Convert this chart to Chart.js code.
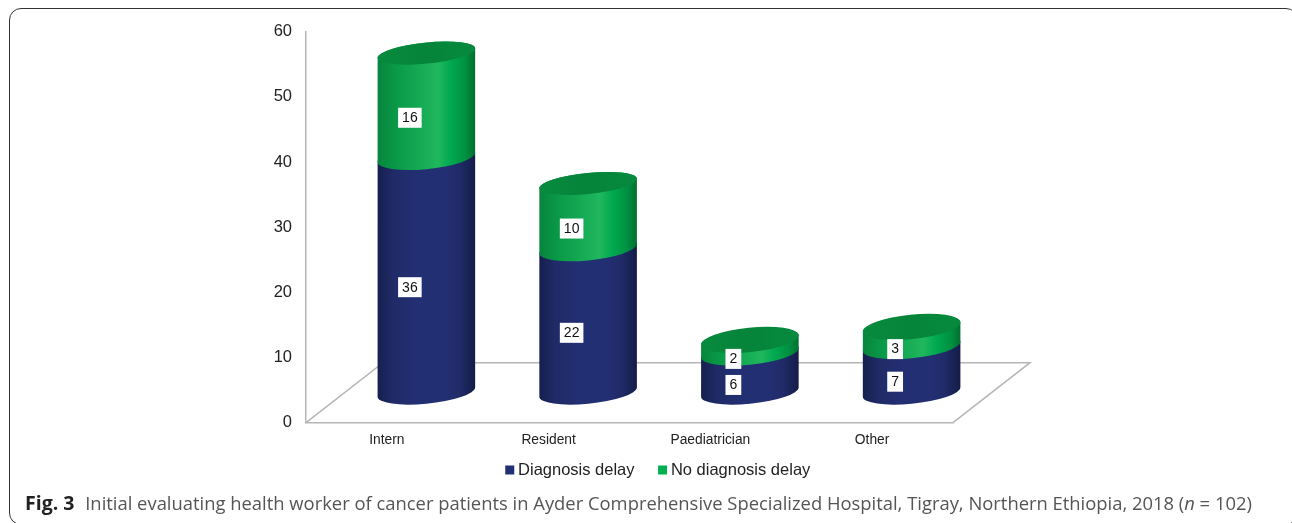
<!DOCTYPE html>
<html>
<head>
<meta charset="utf-8">
<script src="https://cdn.jsdelivr.net/npm/chart.js@4"></script>
<style>
    html, body { margin: 0; padding: 0; background: #fff; overflow: hidden; }
    #wrap { position: relative; width: 1292px; height: 523px; overflow: hidden; }
    #chart { position: absolute; left: 0; top: 0; }
    #card { position: absolute; left: 9px; top: 7.5px; width: 1289px; height: 517px; border: 1.5px solid #333; border-radius: 12px; box-sizing: border-box; }
    #caption { position: absolute; left: 25px; top: 489px; white-space: nowrap; font: 18.4px "Open Sans", sans-serif; color: #555; }
    #caption b { color: #222; font-size: 19.5px; margin-right: 6px; }
</style>
</head>
<body>
<div id="wrap">
    <div id="card"></div>
    <canvas id="chart" width="1292" height="523"></canvas>
    <div id="caption"><b>Fig. 3</b> Initial evaluating health worker of cancer patients in Ayder Comprehensive Specialized Hospital, Tigray, Northern Ethiopia, 2018 (<i>n</i> = 102)</div>
</div>
<script>
const categories = ['Intern', 'Resident', 'Paediatrician', 'Other'];
const diagnosisDelay = [36, 22, 6, 7];
const noDiagnosisDelay = [16, 10, 2, 3];
const yTicks = [0, 10, 20, 30, 40, 50, 60];

// 3D look: floor depth in px, cylinders stand in the middle of it
const depthX = 77;
const depthY = 60;
const yShift = 30.7;
const ellipseB = 10.5;
const shortCapB = 12.2;
const tilt = -0.1;
const axisColor = '#b6b6b6';

const blueStops = [[0, '#151f4e'], [0.15, '#1f2a66'], [0.4, '#232f73'], [0.7, '#232f73'], [0.85, '#1f2a66'], [1, '#131c47']];
const greenStops = [[0, '#07853d'], [0.2, '#0a9a48'], [0.45, '#16ab55'], [0.62, '#20b75d'], [0.75, '#00a94f'], [0.9, '#009040'], [1, '#006e30']];

function sideGradient(ctx, cx, a, stops) {
    const g = ctx.createLinearGradient(cx - a, 0, cx + a, 0);
    stops.forEach(s => g.addColorStop(s[0], s[1]));
    return g;
}

function drawSide(ctx, cx, yTop, yBottom, a, stops) {
    const t0 = Math.atan(-(ellipseB / a) * Math.tan(tilt));
    ctx.beginPath();
    ctx.ellipse(cx, yBottom, a, ellipseB + 1.2, tilt, Math.PI + t0, t0, true);
    ctx.ellipse(cx, yTop, a, ellipseB, tilt, t0, Math.PI + t0, true);
    ctx.closePath();
    ctx.fillStyle = sideGradient(ctx, cx, a, stops);
    ctx.fill();
}

function drawValueBox(ctx, text, x, y) {
    ctx.font = '14px "Liberation Sans", Arial, sans-serif';
    ctx.textAlign = 'center';
    ctx.textBaseline = 'middle';
    const w = ctx.measureText(text).width + 8;
    ctx.fillStyle = '#fff';
    ctx.fillRect(x - w / 2, y - 10, w, 20);
    ctx.fillStyle = '#111';
    ctx.fillText(text, x, y + 0.5);
}

const cylinderPlugin = {
    id: 'cylinders',
    beforeDatasetsDraw(chart) {
        const ctx = chart.ctx;
        const area = chart.chartArea;
        const bottom = chart.scales.y.getPixelForValue(0);

        // floor
        ctx.save();
        ctx.strokeStyle = axisColor;
        ctx.lineWidth = 1.5;
        ctx.beginPath();
        ctx.moveTo(area.left, bottom);
        ctx.lineTo(area.left + depthX, bottom - depthY);
        ctx.lineTo(area.right + depthX, bottom - depthY);
        ctx.lineTo(area.right, bottom);
        ctx.stroke();

        const lower = chart.getDatasetMeta(0).data;
        const upper = chart.getDatasetMeta(1).data;
        lower.forEach((bar, i) => {
            const top = upper[i];
            const cx = bar.x + depthX / 2 + 1;
            const a = bar.width / 2;
            const capB = diagnosisDelay[i] + noDiagnosisDelay[i] < 15 ? shortCapB : ellipseB;
            drawSide(ctx, cx, bar.y - yShift, bar.base - yShift, a, blueStops);
            drawSide(ctx, cx, top.y - yShift, top.base - yShift, a, greenStops);
            ctx.beginPath();
            ctx.ellipse(cx, top.y - yShift, a, capB, tilt, 0, Math.PI * 2);
            ctx.fillStyle = sideGradient(ctx, cx, a, [[0, '#078a3e'], [0.5, '#05843a'], [1, '#068a3e']]);
            ctx.fill();
        });

        // value boxes sit on the front of the cylinder
        [[lower, diagnosisDelay], [upper, noDiagnosisDelay]].forEach(pair => {
            pair[0].forEach((bar, i) => {
                const cx = bar.x + depthX / 2 + 1 - 16.5;
                const mid = (bar.y + bar.base) / 2 - yShift + 12.5;
                drawValueBox(ctx, String(pair[1][i]), cx, mid);
            });
        });
        ctx.restore();
        return false;
    }
};

const legendMovePlugin = {
    id: 'legendMove',
    afterLayout(chart) {
        const l = chart.legend;
        const w = l.right - l.left;
        l.left = 660 - w / 2;
        l.right = l.left + w;
        l.top = 433.75;
    }
};

new Chart(document.getElementById('chart'), {
    type: 'bar',
    data: {
        labels: categories,
        datasets: [
            { label: 'Diagnosis delay', data: diagnosisDelay, backgroundColor: '#232f73', stack: 'a', barPercentage: 0.606, categoryPercentage: 1 },
            { label: 'No diagnosis delay', data: noDiagnosisDelay, backgroundColor: '#00b050', stack: 'a', barPercentage: 0.606, categoryPercentage: 1 }
        ]
    },
    options: {
        responsive: false,
        animation: false,
        layout: { padding: { top: 31.7, left: 0, right: 339, bottom: 0 } },
        plugins: {
            legend: {
                position: 'bottom',
                labels: {
                    usePointStyle: true,
                    pointStyle: 'rect',
                    boxWidth: 0.1,
                    boxHeight: 9,
                    padding: 28,
                    color: '#222',
                    font: { family: '"Liberation Sans", Arial, sans-serif', size: 16.5 }
                }
            },
            tooltip: { enabled: false }
        },
        scales: {
            x: {
                stacked: true,
                grid: { display: false, drawTicks: false },
                border: { color: axisColor, width: 1.5 },
                ticks: { color: '#222', padding: 9.3, maxRotation: 0, font: { family: '"Liberation Sans", Arial, sans-serif', size: 13.8 } },
                afterFit(s) { s.height = 45.8; }
            },
            y: {
                stacked: true,
                min: 0,
                max: 60,
                afterBuildTicks(s) { s.ticks = yTicks.map(v => ({ value: v })); },
                grid: { display: false, drawTicks: false },
                border: { color: axisColor, width: 1.5 },
                ticks: { color: '#222', padding: 14, font: { family: '"Liberation Sans", Arial, sans-serif', size: 16.5 } },
                afterFit(s) { s.width = 306; }
            }
        }
    },
    plugins: [cylinderPlugin, legendMovePlugin]
});
</script>
</body>
</html>
